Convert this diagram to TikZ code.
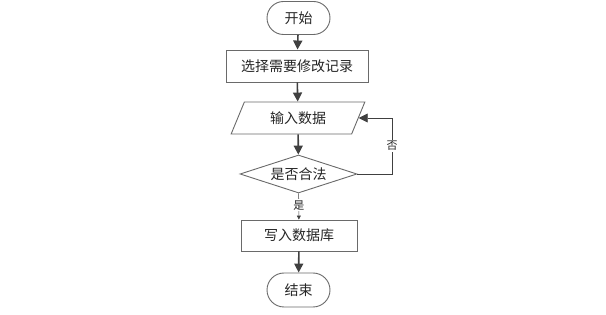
\documentclass[tikz,border=0pt]{standalone}
\usepackage{fontspec}
\newfontfamily\cjk{Noto Sans CJK SC}
\usetikzlibrary{shapes.geometric,shapes.misc,arrows.meta}
\definecolor{edgec}{HTML}{404040}
\definecolor{bordc}{HTML}{6A6A6A}
\begin{document}
\begin{tikzpicture}[x=1pt,y=-1pt,
  box/.style={draw=bordc,line width=0.9pt,fill=white,inner sep=0pt,font=\cjk\fontsize{14}{16}\selectfont,text=black!85},
  term/.style={box,rounded rectangle,minimum width=63pt,minimum height=33pt},
  procbox/.style={box,rectangle,minimum height=32pt},
  iobox/.style={box,trapezium,trapezium left angle=62,trapezium right angle=118,trapezium stretches=true,minimum width=134pt,minimum height=32pt},
  decbox/.style={box,diamond,aspect=3,minimum width=117pt,minimum height=38pt},
  flow/.style={draw=edgec,line width=1.6pt,-{Triangle[length=9pt,width=9pt]}},
  thin/.style={draw=edgec,line width=0.6pt,-{Triangle[length=4pt,width=4pt]}},
  loopline/.style={draw=edgec,line width=0.9pt},
  lbl/.style={fill=white,inner sep=1pt,font=\cjk\fontsize{11}{13}\selectfont,text=black!85}
]
\path[use as bounding box] (0,0) rectangle (606,315);
\node[term] (start) at (298.5,18) {开始};
\node[procbox,minimum width=142pt] (sel) at (297,66) {选择需要修改记录};
\node[iobox] (inp) at (298,118) {输入数据};
\node[decbox] (chk) at (298.5,174) {是否合法};
\node[procbox,minimum width=116pt,minimum height=31pt] (wr) at (299,235.5) {写入数据库};
\node[term,minimum height=34pt] (fin) at (298.5,290) {结束};
\coordinate (lp) at (392,146);
\draw[flow] (start) -- (sel);
\draw[flow] (sel) -- (inp);
\draw[flow] (inp) -- (chk);
\draw[thin] (chk) -- node[lbl,pos=0.45] {是} (wr);
\draw[flow] (wr) -- (fin);
\draw[loopline] (chk.east) -| (lp);
\draw[loopline,-{Triangle[length=9pt,width=9pt]}] (lp) |- (inp.east);
\node[lbl] at (lp) {否};
\end{tikzpicture}
\end{document}
